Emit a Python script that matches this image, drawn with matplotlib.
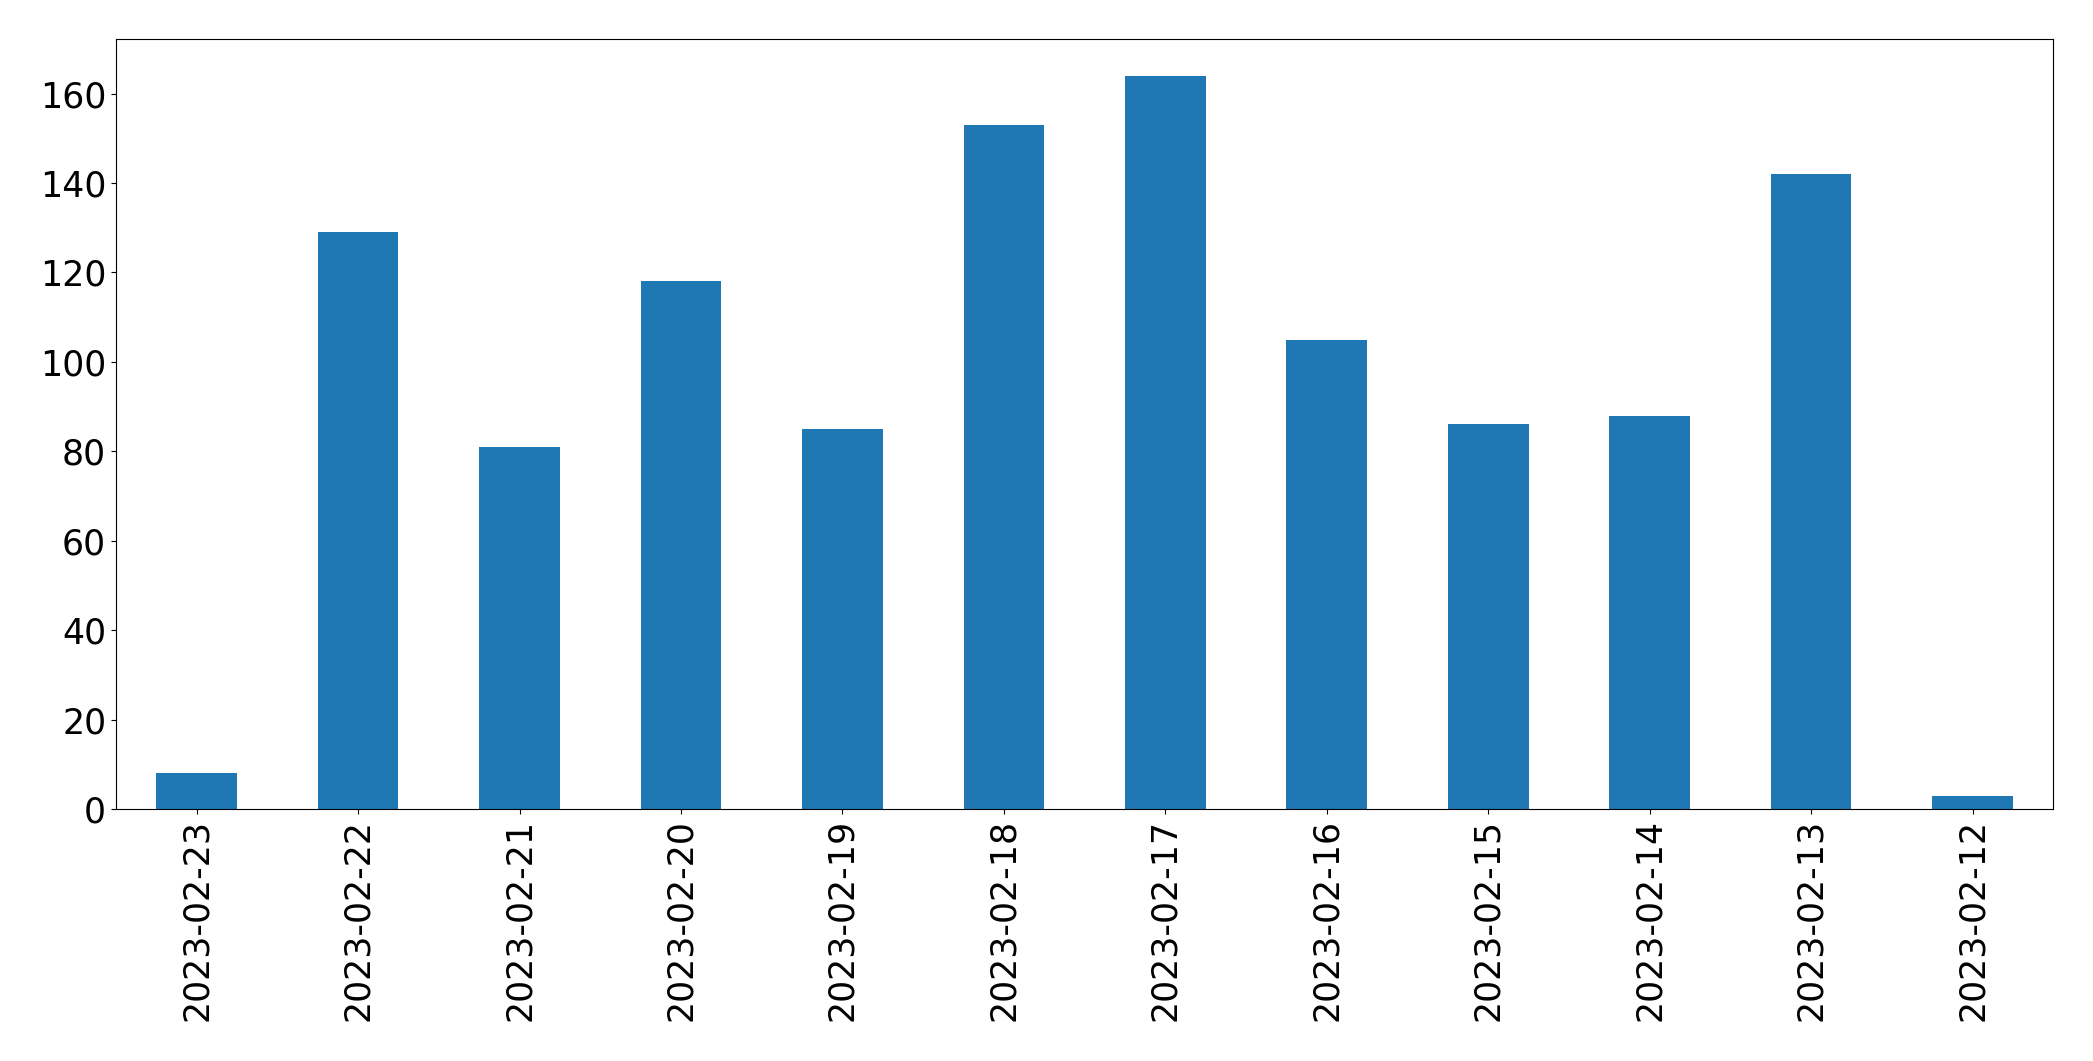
import matplotlib
matplotlib.use('Agg')
import matplotlib.pyplot as plt
import pandas as pd

dates = ['2023-02-23', '2023-02-22', '2023-02-21', '2023-02-20', '2023-02-19', '2023-02-18',
         '2023-02-17', '2023-02-16', '2023-02-15', '2023-02-14', '2023-02-13', '2023-02-12']
counts = [8, 129, 81, 118, 85, 153, 164, 105, 86, 88, 142, 3]

data = pd.Series(counts, index=dates)

fig = plt.figure(figsize=(20.93, 10.61), dpi=100)
ax = fig.add_axes([0.0554, 0.2375, 0.9256, 0.7257])
data.plot(kind='bar', ax=ax, color='#1f77b4')
ax.tick_params(axis='both', labelsize=25)
plt.savefig('out.png', dpi=100)
